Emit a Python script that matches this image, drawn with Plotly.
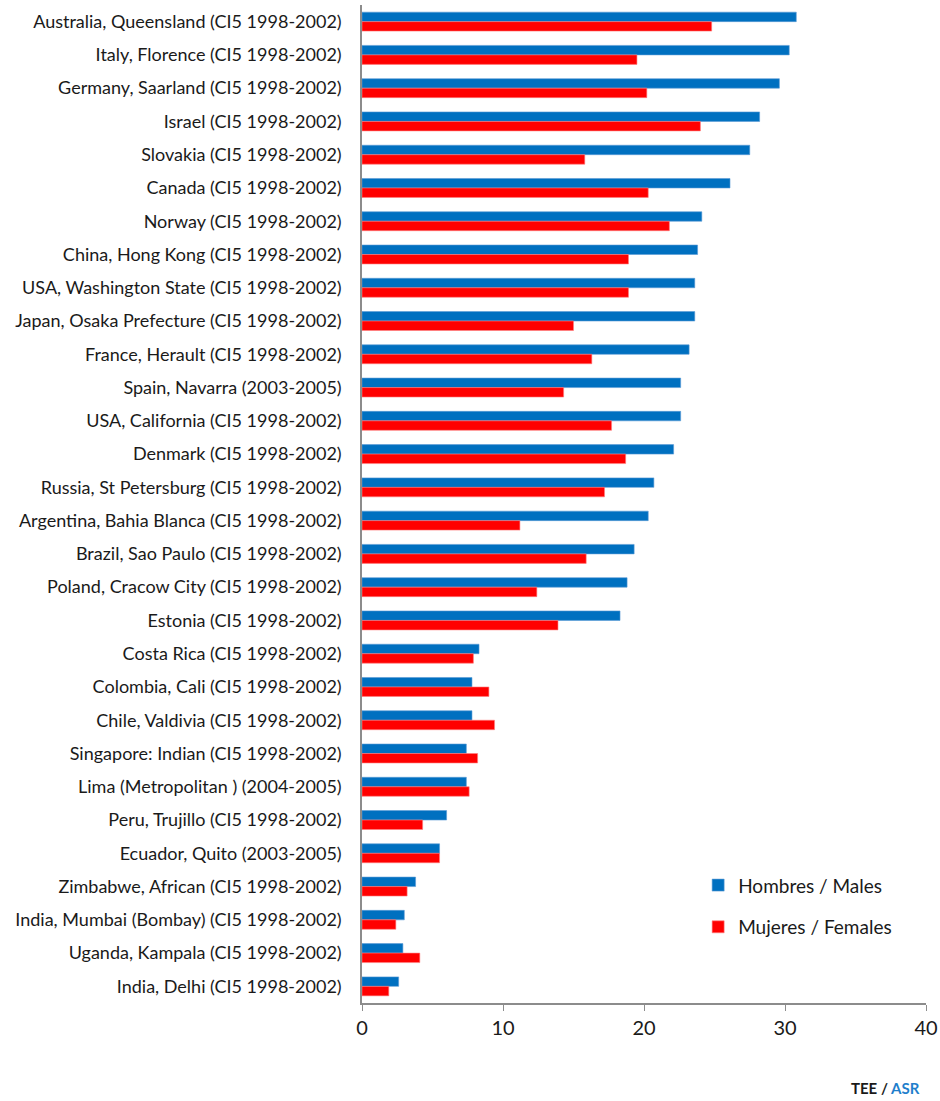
import plotly.graph_objects as go

categories = [
    "Australia, Queensland (CI5 1998-2002)",
    "Italy, Florence (CI5 1998-2002)",
    "Germany, Saarland (CI5 1998-2002)",
    "Israel (CI5 1998-2002)",
    "Slovakia (CI5 1998-2002)",
    "Canada (CI5 1998-2002)",
    "Norway (CI5 1998-2002)",
    "China, Hong Kong (CI5 1998-2002)",
    "USA, Washington State (CI5 1998-2002)",
    "Japan, Osaka Prefecture (CI5 1998-2002)",
    "France, Herault (CI5 1998-2002)",
    "Spain, Navarra (2003-2005)",
    "USA, California (CI5 1998-2002)",
    "Denmark (CI5 1998-2002)",
    "Russia, St Petersburg (CI5 1998-2002)",
    "Argentina, Bahia Blanca (CI5 1998-2002)",
    "Brazil, Sao Paulo (CI5 1998-2002)",
    "Poland, Cracow City (CI5 1998-2002)",
    "Estonia (CI5 1998-2002)",
    "Costa Rica (CI5 1998-2002)",
    "Colombia, Cali (CI5 1998-2002)",
    "Chile, Valdivia (CI5 1998-2002)",
    "Singapore: Indian (CI5 1998-2002)",
    "Lima (Metropolitan ) (2004-2005)",
    "Peru, Trujillo (CI5 1998-2002)",
    "Ecuador, Quito (2003-2005)",
    "Zimbabwe, African (CI5 1998-2002)",
    "India, Mumbai (Bombay) (CI5 1998-2002)",
    "Uganda, Kampala (CI5 1998-2002)",
    "India, Delhi (CI5 1998-2002)",
]

males = [30.8, 30.3, 29.6, 28.2, 27.5, 26.1, 24.1, 23.8, 23.6, 23.6,
         23.2, 22.6, 22.6, 22.1, 20.7, 20.3, 19.3, 18.8, 18.3, 8.3,
         7.8, 7.8, 7.4, 7.4, 6.0, 5.5, 3.8, 3.0, 2.9, 2.6]

females = [24.8, 19.5, 20.2, 24.0, 15.8, 20.3, 21.8, 18.9, 18.9, 15.0,
           16.3, 14.3, 17.7, 18.7, 17.2, 11.2, 15.9, 12.4, 13.9, 7.9,
           9.0, 9.4, 8.2, 7.6, 4.3, 5.5, 3.2, 2.4, 4.1, 1.9]

series_names = ["Hombres / Males", "Mujeres / Females"]
x_ticks = [0, 10, 20, 30, 40]

fig = go.Figure()
fig.add_trace(go.Bar(
    y=categories, x=males, orientation="h", name=series_names[0],
    legendgroup="m",
    marker=dict(color="#0070C0", line=dict(color="#5B9BD5", width=0.6)),
))
fig.add_trace(go.Bar(
    y=categories, x=females, orientation="h", name=series_names[1],
    legendgroup="f",
    marker=dict(color="#FF0000", line=dict(color="#FF7F7F", width=0.6)),
))

fig.update_layout(
    width=940, height=1101,
    margin=dict(l=362, r=14, t=5, b=98),
    paper_bgcolor="white", plot_bgcolor="white",
    barmode="group", bargap=0.43, bargroupgap=0,
    font=dict(family="Lato, Open Sans, sans-serif", color="#1a1a1a"),
    showlegend=True,
    legend=dict(
        x=0.596, y=0.137, xanchor="left", yanchor="top",
        font=dict(size=19, color="#1a1a1a"),
        bgcolor="rgba(0,0,0,0)", tracegroupgap=14, itemwidth=30,
        traceorder="grouped",
    ),
    xaxis=dict(
        range=[0, 40], tickvals=x_ticks, showgrid=False, zeroline=False,
        showline=True, linecolor="#8c8c8c", linewidth=1.5,
        ticks="outside", ticklen=6, tickcolor="#8c8c8c",
        tickfont=dict(size=20, color="#1a1a1a"), automargin=False,
    ),
    yaxis=dict(
        categoryorder="array", categoryarray=categories,
        autorange="reversed", showgrid=False, zeroline=False,
        showline=True, linecolor="#8c8c8c", linewidth=1.5,
        ticks="", ticklen=0, tickfont=dict(size=18, color="#1a1a1a"),
        ticklabelstandoff=15, automargin=False,
    ),
    annotations=[dict(
        x=1.0, y=-0.085, xref="paper", yref="paper",
        xanchor="right", yanchor="middle", showarrow=False, xshift=-4,
        text="<b>TEE / <span style='color:#1F7FCC'>ASR</span></b>",
        font=dict(size=15, color="#1a1a1a"),
    )],
)

fig.write_html(
    "out.html",
    config={"displayModeBar": False},
    post_script="document.body.style.margin='0px';document.body.style.padding='0px';",
)
